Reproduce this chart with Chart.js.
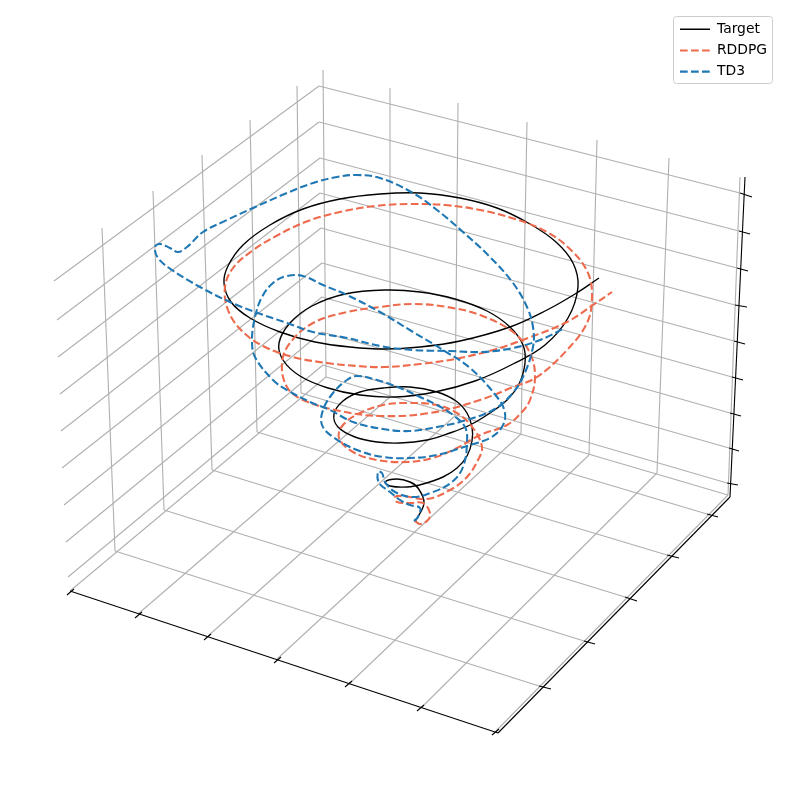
<!DOCTYPE html>
<html>
<head>
<meta charset="utf-8">
<style>html,body{margin:0;padding:0;background:#fff}canvas{display:block}</style>
<script src="https://cdn.jsdelivr.net/npm/chart.js@4"></script>
</head>
<body>
<canvas id="c" width="790" height="790"></canvas>
<script>
// Projected picture-plane coordinates (x, y)
const targetCurve = [[415,522],[424,503],[418,488],[410,482],[397,479],[385,482],[390,486],[407,487],[423,484],[443,477],[457,468],[467,456],[472,441],[472,427],[467,413],[456,401],[437,392],[410,387],[383,388],[360,392],[343,401],[334,414],[338,427],[355,437],[377,442],[400,443],[427,440],[450,433],[470,425],[490,413],[507,400],[519,384],[525,363],[523,345],[510,327],[487,311],[455,299],[420,292],[385,290],[345,294],[312,306],[290,323],[279,343],[283,360],[300,376],[328,388],[360,395],[395,397],[435,392],[475,381],[513,364],[545,345],[568,318],[578,287],[573,263],[556,242],[530,224],[497,208],[460,198],[420,193],[380,194],[340,199],[303,209],[270,225],[243,245],[228,266],[224,283],[231,302],[250,318],[280,332],[315,342],[350,347],[385,349],[420,347],[460,341],[510,327],[547,310],[575,294],[599,278]];
const rddpgCurve = [[415,521],[420,524],[428,520],[430,513],[423,503],[410,503],[397,502],[395,497],[403,496],[427,499],[450,490],[467,477],[478,460],[482,447],[473,428],[457,413],[437,405],[407,403],[383,405],[360,413],[343,425],[339,438],[353,452],[377,460],[407,462],[433,458],[457,448],[480,435],[507,425],[522,412],[530,400],[535,377],[530,353],[513,332],[480,315],[447,307],[413,304],[380,307],[347,312],[313,323],[290,343],[282,363],[287,387],[303,400],[340,411],[380,416],[430,413],[480,400],[513,387],[537,377],[567,350],[587,323],[592,297],[588,273],[572,251],[547,232],[515,219],[480,210],[445,205],[410,204],[375,206],[340,212],[308,221],[278,235],[252,251],[233,268],[225,287],[228,310],[241,330],[263,346],[293,357],[327,363],[357,366],[385,367],[420,364],[455,359],[493,350],[528,338],[567,322],[593,305],[612,292]];
const td3Curve = [[414,521],[418,517],[420,508],[410,505],[400,500],[390,492],[379,483],[378,472],[382,473],[385,482],[395,492],[413,497],[433,492],[452,482],[463,467],[467,443],[465,427],[453,415],[437,405],[420,397],[400,388],[377,380],[357,376],[347,380],[333,393],[323,410],[322,425],[333,437],[357,450],[383,457],[410,458],[437,455],[470,445],[490,438],[502,427],[505,413],[497,397],[470,368],[443,350],[413,332],[380,312],[347,295],[323,285],[303,276],[287,276],[273,283],[262,297],[255,317],[252,340],[255,357],[273,380],[287,390],[310,402],[330,410],[353,422],[383,429],[410,431],[437,427],[467,420],[493,410],[510,396],[523,377],[533,347],[533,327],[527,307],[513,283],[490,257],[463,232],[437,210],[413,193],[380,178],[357,175],[337,177],[313,183],[287,193],[253,208],[227,220],[203,232],[187,247],[178,252],[170,248],[160,244],[155,247],[158,258],[172,270],[200,287],[230,302],[255,312],[287,323],[313,332],[347,338],[380,346],[413,350],[450,351],[483,352],[513,348],[540,340],[565,328]];

const seriesNames = ['Target','RDDPG','TD3'];

// Grid segments: [x1, y1, x2, y2]
const leftWallVerticals = [[102,228,115,551],[153,191,164,510],[202,155,212,470],[250,120,257,432],[297,86,301,393]];
const backWallVerticals = [[323,70,326,377],[390,88,390,397],[458,103,455,416],[527,122,521,434],[597,140,589,455],[669,158,657,473],[740,177,728,495]];
const leftWallLevels = [[54,281,319,86],[57,320,319,122],[58,357,320,158],[60,394,320,193],[61,431,321,228],[62,468,322,263],[64,505,322,297],[66,542,322,332],[68,577,323,365]];
const backWallLevels = [[319,86,740,193],[319,122,739,231],[320,158,737,268],[320,193,735,305],[321,228,734,341],[322,263,732,377],[322,297,730,413],[322,332,729,448],[323,365,727,483]];
const floorAcross = [[115,551,539,686],[164,510,584,641],[212,470,625,597],[257,432,667,555],[301,393,707,514]];
const floorAlong = [[70,591,326,377],[138,614,390,397],[208,636,455,416],[277,659,521,434],[349,684,589,455],[421,708,657,473],[496,731,728,495]];
const floorEdges = [[326,377,728,495]];

// Black axes and tick marks: [x1, y1, x2, y2]
const axisLines = [[70,591,498,733],[498,733,730,497],[730,497,745,177]];
const xTickMarks = [[67,595,74,589],[135,618,142,612],[204,640,211,634],[274,663,281,657],[345,687,352,681],[417,711,424,705],[492,735,499,729]];
const yTickMarks = [[539,686,551,689],[584,641,595,644],[625,597,637,601],[667,555,679,558],[707,514,718,517]];
const zTickMarks = [[740,193,752,197],[739,231,750,234],[737,268,748,271],[735,305,747,307],[734,341,745,344],[732,377,743,380],[730,413,741,416],[729,448,739,451],[727,483,738,485]];

const toPts = a => a.map(p => ({x:p[0], y:p[1]}));
const segDs = (s, color) => ({
  data:[{x:s[0],y:s[1]},{x:s[2],y:s[3]}], borderColor:color, borderWidth:1.11,
  pointRadius:0, showLine:true, tension:0, fill:false
});
const curveDs = (label, arr, color, width, dash) => ({
  label, data:toPts(arr), borderColor:color, backgroundColor:color, borderWidth:width,
  borderDash:dash, pointRadius:0, showLine:true, tension:0.38, fill:false,
  borderCapStyle:'butt', borderJoinStyle:'round'
});
const GRID = '#b0b0b0', INK = '#000000';
const greySegs = [].concat(floorEdges, floorAcross, floorAlong, backWallLevels, leftWallLevels, backWallVerticals, leftWallVerticals);
const blackSegs = [].concat(axisLines, xTickMarks, yTickMarks, zTickMarks);

const datasets = [
  curveDs(seriesNames[2], td3Curve, '#1f77b4', 2.08, [7.7,3.3]),
  curveDs(seriesNames[1], rddpgCurve, '#ee6a4d', 2.08, [7.7,3.3]),
  curveDs(seriesNames[0], targetCurve, '#000000', 1.39, []),
  ...blackSegs.map(s => segDs(s, INK)),
  ...greySegs.map(s => segDs(s, GRID))
];

const legendPlacement = {
  id:'legendPlacement',
  afterUpdate(chart){
    const l = chart.legend;
    l.left = 672.7; l.top = 15;
  },
  beforeDraw(chart){
    const c = chart.ctx;
    c.save();
    c.beginPath();
    c.roundRect(673.5,16.5,99,67,3);
    c.fillStyle='rgba(255,255,255,0.8)';
    c.fill();
    c.strokeStyle='#cccccc';
    c.lineWidth=1;
    c.stroke();
    c.restore();
  }
};

new Chart(document.getElementById('c'), {
  type:'scatter',
  data:{datasets},
  plugins:[legendPlacement],
  options:{
    responsive:false, animation:false,
    layout:{padding:0},
    scales:{
      x:{type:'linear',min:0,max:790,display:false},
      y:{type:'linear',min:0,max:790,reverse:true,display:false}
    },
    plugins:{
      tooltip:{enabled:false},
      title:{display:false},
      legend:{
        position:'chartArea', align:'start',
        labels:{
          usePointStyle:true, pointStyle:'line', pointStyleWidth:30, boxHeight:14,
          padding:7.3, color:'#000000',
          font:{family:'"DejaVu Sans"', size:13.9},
          generateLabels:chart => Chart.defaults.plugins.legend.labels.generateLabels(chart).map(item => {
            const ds = chart.data.datasets[item.datasetIndex];
            item.lineDash = ds.borderDash || [];
            item.lineWidth = ds.borderWidth;
            item.strokeStyle = ds.borderColor;
            return item;
          }),
          filter:i => !!i.text,
          sort:(a,b) => b.datasetIndex - a.datasetIndex
        }
      }
    }
  }
});
</script>
</body>
</html>
